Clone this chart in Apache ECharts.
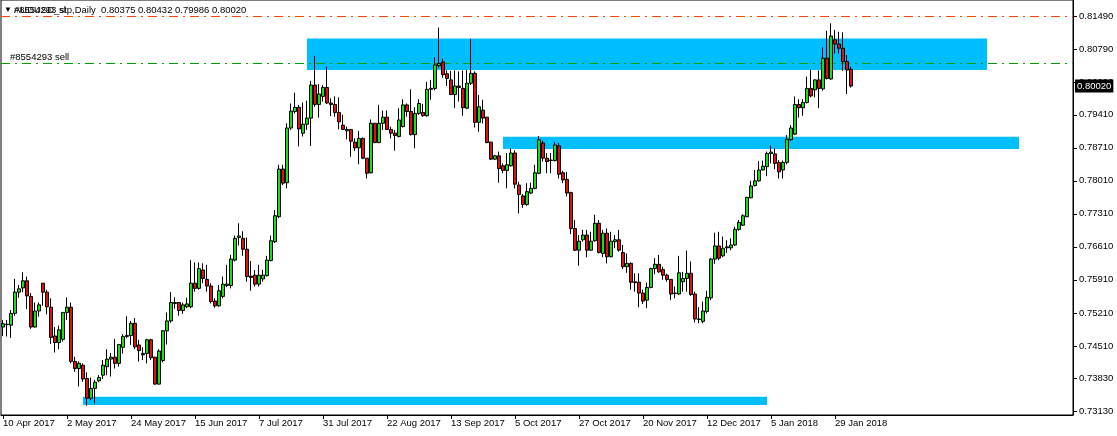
<!DOCTYPE html>
<html><head><meta charset="utf-8">
<script src="https://cdn.jsdelivr.net/npm/echarts@6/dist/echarts.min.js"></script>
<style>html,body{margin:0;padding:0;background:#fff}#c{width:1117px;height:436px}</style>
</head><body><div id="c"></div>
<script>
// ---- data (AUDUSD daily) ----
const symbolTitle = 'AUDUSD_stp,Daily';
const startDate = '2017-04-10';
const holidays = ['2017-12-25', '2018-01-01'];
const totalSlots = 268;
const labelEvery = 16;

const opens = [0.7491,0.7496,0.7495,0.7520,0.7565,0.7574,0.7589,0.7556,0.7491,0.7525,
0.7584,0.7565,0.7533,0.7472,0.7458,0.7465,0.7522,0.7533,0.7418,0.7403,
0.7410,0.7382,0.7340,0.7361,0.7377,0.7389,0.7407,0.7423,0.7427,0.7414,
0.7448,0.7471,0.7473,0.7499,0.7453,0.7435,0.7435,0.7464,0.7427,0.7370,
0.7420,0.7483,0.7504,0.7541,0.7543,0.7526,0.7534,0.7534,0.7584,0.7573,
0.7612,0.7592,0.7578,0.7546,0.7536,0.7556,0.7579,0.7579,0.7633,0.7681,
0.7679,0.7656,0.7599,0.7601,0.7582,0.7593,0.7600,0.7632,0.7672,0.7725,
0.7826,0.7797,0.7913,0.7948,0.7957,0.7902,0.7921,0.7934,0.8004,0.7963,
0.7980,0.7999,0.7966,0.7963,0.7946,0.7919,0.7907,0.7910,0.7883,0.7871,
0.7891,0.7849,0.7818,0.7923,0.7882,0.7923,0.7936,0.7910,0.7902,0.7895,
0.7916,0.7962,0.7948,0.7899,0.7944,0.7946,0.7939,0.7995,0.7997,0.8045,
0.8053,0.8028,0.8015,0.7984,0.8002,0.7997,0.7955,0.8008,0.8029,0.7925,
0.7951,0.7936,0.7883,0.7847,0.7854,0.7833,0.7823,0.7833,0.7860,0.7792,
0.7769,0.7751,0.7775,0.7785,0.7817,0.7881,0.7849,0.7845,0.7844,0.7875,
0.7818,0.7804,0.7776,0.7700,0.7654,0.7676,0.7686,0.7654,0.7674,0.7711,
0.7647,0.7690,0.7640,0.7672,0.7676,0.7649,0.7619,0.7626,0.7587,0.7586,
0.7563,0.7548,0.7575,0.7615,0.7624,0.7613,0.7601,0.7592,0.7562,0.7561,
0.7587,0.7594,0.7605,0.7561,0.7507,0.7503,0.7524,0.7553,0.7635,0.7663,
0.7642,0.7659,0.7659,0.7665,0.7698,0.7707,0.7725,0.7765,0.7791,0.7801,
0.7824,0.7831,0.7859,0.7858,0.7840,0.7824,0.7840,0.7888,0.7900,0.7963,
0.7956,0.7967,0.7997,0.7994,0.8015,0.7996,0.8061,0.8017,0.8100,0.8091,
0.8082,0.8054,0.80375];
const highs = [0.7506,0.7506,0.7527,0.7593,0.7580,0.7607,0.7598,0.7563,0.7543,0.7543,
0.7584,0.7570,0.7552,0.7491,0.7494,0.7522,0.7554,0.7543,0.7428,0.7418,
0.7414,0.7395,0.7384,0.7379,0.7389,0.7421,0.7444,0.7436,0.7466,0.7454,
0.7476,0.7514,0.7504,0.7510,0.7464,0.7448,0.7466,0.7466,0.7428,0.7444,
0.7485,0.7522,0.7565,0.7554,0.7543,0.7543,0.7553,0.7633,0.7628,0.7628,
0.7626,0.7623,0.7584,0.7552,0.7580,0.7598,0.7623,0.7644,0.7685,0.7711,
0.7694,0.7681,0.7631,0.7612,0.7623,0.7612,0.7642,0.7685,0.7739,0.7835,
0.7835,0.7923,0.7965,0.7988,0.7962,0.7967,0.7971,0.8013,0.8066,0.8006,
0.8004,0.8043,0.7976,0.7980,0.7978,0.7941,0.7916,0.7910,0.7891,0.7907,
0.7893,0.7849,0.7931,0.7923,0.7962,0.7950,0.7950,0.7916,0.7909,0.7955,
0.7974,0.7965,0.7995,0.7957,0.7974,0.7964,0.8011,0.8015,0.8063,0.8126,
0.8060,0.8035,0.8034,0.8035,0.8033,0.8035,0.8036,0.8102,0.8033,0.7983,
0.7973,0.7936,0.7884,0.7856,0.7863,0.7838,0.7860,0.7870,0.7866,0.7799,
0.7773,0.7796,0.7797,0.7835,0.7896,0.7886,0.7860,0.7860,0.7883,0.7881,
0.7822,0.7820,0.7778,0.7718,0.7686,0.7697,0.7697,0.7693,0.7729,0.7718,
0.7697,0.7700,0.7693,0.7686,0.7697,0.7665,0.7647,0.7628,0.7605,0.7605,
0.7570,0.7585,0.7617,0.7637,0.7644,0.7619,0.7604,0.7593,0.7577,0.7642,
0.7608,0.7653,0.7630,0.7566,0.7533,0.7545,0.7568,0.7637,0.7691,0.7693,
0.7683,0.7675,0.7679,0.7704,0.7718,0.7730,0.7767,0.7801,0.7824,0.7843,
0.7844,0.7863,0.7876,0.7870,0.7845,0.7844,0.7898,0.7919,0.7980,0.7974,
0.7974,0.8022,0.8037,0.8016,0.8035,0.8084,0.8119,0.8135,0.8121,0.8117,
0.8116,0.8068,0.80432];
const lows = [0.7472,0.7471,0.7468,0.7515,0.7553,0.7565,0.7529,0.7487,0.7490,0.7513,
0.7536,0.7518,0.7455,0.7437,0.7444,0.7460,0.7506,0.7414,0.7396,0.7365,
0.7375,0.7324,0.7336,0.7329,0.7374,0.7381,0.7389,0.7386,0.7403,0.7407,
0.7435,0.7467,0.7453,0.7444,0.7418,0.7421,0.7414,0.7421,0.7369,0.7369,
0.7416,0.7454,0.7500,0.7530,0.7515,0.7519,0.7531,0.7531,0.7566,0.7570,
0.7584,0.7566,0.7541,0.7532,0.7534,0.7552,0.7576,0.7573,0.7630,0.7664,
0.7642,0.7587,0.7568,0.7577,0.7577,0.7587,0.7598,0.7630,0.7669,0.7722,
0.7792,0.7785,0.7909,0.7944,0.7874,0.7895,0.7909,0.7875,0.7958,0.7935,
0.7969,0.7964,0.7938,0.7937,0.7910,0.7909,0.7889,0.7852,0.7864,0.7836,
0.7847,0.7806,0.7817,0.7881,0.7881,0.7909,0.7909,0.7891,0.7865,0.7893,
0.7914,0.7937,0.7897,0.7870,0.7941,0.7937,0.7937,0.7973,0.7993,0.8041,
0.8019,0.8002,0.7983,0.7955,0.7969,0.7939,0.7953,0.8004,0.7914,0.7905,
0.7923,0.7881,0.7845,0.7845,0.7797,0.7817,0.7785,0.7831,0.7785,0.7732,
0.7744,0.7748,0.7773,0.7783,0.7815,0.7842,0.7817,0.7817,0.7842,0.7806,
0.7796,0.7768,0.7688,0.7652,0.7621,0.7672,0.7639,0.7653,0.7672,0.7647,
0.7639,0.7626,0.7639,0.7658,0.7651,0.7614,0.7606,0.7570,0.7566,0.7533,
0.7540,0.7531,0.7573,0.7603,0.7606,0.7591,0.7587,0.7548,0.7552,0.7559,
0.7566,0.7566,0.7557,0.7501,0.7499,0.7499,0.7520,0.7548,0.7625,0.7633,
0.7639,0.7648,0.7654,0.7663,0.7695,0.7705,0.7724,0.7764,0.7789,0.7799,
0.7823,0.7811,0.7838,0.7826,0.7806,0.7806,0.7836,0.7886,0.7898,0.7935,
0.7939,0.7965,0.7978,0.7978,0.7955,0.7992,0.8016,0.8015,0.8071,0.8071,
0.8034,0.7985,0.79986];
const closes = [0.7498,0.7497,0.7520,0.7565,0.7572,0.7589,0.7557,0.7491,0.7525,0.7538,
0.7565,0.7534,0.7469,0.7458,0.7485,0.7522,0.7533,0.7418,0.7403,0.7414,
0.7381,0.7340,0.7361,0.7374,0.7384,0.7410,0.7423,0.7427,0.7414,0.7454,
0.7471,0.7473,0.7499,0.7449,0.7441,0.7432,0.7464,0.7426,0.7370,0.7440,
0.7483,0.7504,0.7543,0.7543,0.7526,0.7538,0.7540,0.7584,0.7573,0.7615,
0.7594,0.7578,0.7545,0.7536,0.7568,0.7582,0.7582,0.7635,0.7679,0.7684,
0.7656,0.7598,0.7596,0.7582,0.7601,0.7601,0.7633,0.7674,0.7727,0.7826,
0.7796,0.7913,0.7949,0.7957,0.7911,0.7921,0.7934,0.8004,0.7963,0.7985,
0.7999,0.7966,0.7963,0.7946,0.7926,0.7910,0.7910,0.7885,0.7871,0.7891,
0.7849,0.7817,0.7923,0.7882,0.7923,0.7936,0.7910,0.7902,0.7897,0.7930,
0.7962,0.7948,0.7899,0.7944,0.7965,0.7939,0.7995,0.7997,0.8047,0.8050,
0.8026,0.8018,0.7984,0.8002,0.7999,0.7956,0.8008,0.8029,0.7925,0.7958,
0.7934,0.7882,0.7847,0.7854,0.7827,0.7823,0.7835,0.7860,0.7794,0.7772,
0.7751,0.7778,0.7785,0.7818,0.7888,0.7849,0.7842,0.7844,0.7877,0.7815,
0.7803,0.7775,0.7700,0.7654,0.7673,0.7686,0.7654,0.7673,0.7711,0.7649,
0.7690,0.7640,0.7673,0.7676,0.7654,0.7619,0.7626,0.7586,0.7585,0.7563,
0.7546,0.7575,0.7615,0.7624,0.7608,0.7601,0.7592,0.7561,0.7563,0.7606,
0.7594,0.7605,0.7560,0.7508,0.7508,0.7525,0.7554,0.7635,0.7663,0.7637,
0.7658,0.7661,0.7665,0.7698,0.7713,0.7727,0.7766,0.7790,0.7801,0.7824,
0.7832,0.7859,0.7862,0.7838,0.7820,0.7840,0.7889,0.7913,0.7963,0.7956,
0.7967,0.7997,0.7981,0.8015,0.7997,0.8061,0.8018,0.8108,0.8091,0.8082,
0.8054,0.8036,0.80020];

const priceTicks = [0.7313,0.7383,0.7451,0.7521,0.7591,0.7661,0.7731,0.7801,0.7871,0.7941,0.8009,0.8079,0.8149];
const yMin = 0.73045, yMax = 0.81844;

// horizontal trade lines
const slLevel = 0.81504, slText = '#8554293 sl';
const sellLevel = 0.80508, sellText = '#8554293 sell';
const bidLevel = closes[closes.length - 1];

// zones: start bar, end bar, top price, bottom price
const zoneStart = [76, 125, 20];
const zoneEnd = [246, 254, 191];
const zoneTop = [0.81027, 0.78945, 0.73433];
const zoneBottom = [0.80359, 0.78684, 0.73257];

// ---- build categories (trading days) ----
const MON = ['Jan','Feb','Mar','Apr','May','Jun','Jul','Aug','Sep','Oct','Nov','Dec'];
const cats = [];
{
  let d = new Date(startDate + 'T00:00:00Z');
  while (cats.length < opens.length) {
    const wd = d.getUTCDay();
    const iso = d.toISOString().slice(0, 10);
    if (wd !== 0 && wd !== 6 && holidays.indexOf(iso) < 0) {
      cats.push(d.getUTCDate() + ' ' + MON[d.getUTCMonth()] + ' ' + d.getUTCFullYear());
    }
    d = new Date(d.getTime() + 86400000);
  }
  for (let i = cats.length; i < totalSlots; i++) cats.push('#' + i);
}
const candles = opens.map((o, i) => [o, closes[i], lows[i], highs[i]]);
const showIdx = (i) => i % labelEvery === 0 && i < opens.length;
const FONT = 'Liberation Sans';

const chart = echarts.init(document.getElementById('c'), null, {renderer: 'canvas'});
chart.setOption({
  animation: false,
  backgroundColor: '#ffffff',
  textStyle: {fontFamily: FONT},
  title: [
    {text: '▼', left: 4, top: 6, padding: 0, textStyle: {fontSize: 8, fontWeight: 'normal', color: '#000', fontFamily: FONT}},
    {text: symbolTitle + '  ' + [opens, highs, lows, closes].map(a => a[a.length - 1].toFixed(5)).join(' '),
     left: 14, top: 5, padding: 0, textStyle: {fontSize: 9.5, fontWeight: 'normal', color: '#000', fontFamily: FONT}}
  ],
  grid: {left: 1, right: 44, top: 0, bottom: 21, show: true, borderColor: '#000', borderWidth: 1, backgroundColor: '#fff'},
  xAxis: {
    type: 'category', data: cats, boundaryGap: true,
    axisLine: {show: true, lineStyle: {color: '#000', width: 1}},
    axisTick: {show: true, alignWithLabel: true, interval: (i) => showIdx(i), length: 4, lineStyle: {color: '#000'}},
    axisLabel: {interval: (i) => showIdx(i), align: 'left', margin: 3, fontSize: 9.5, color: '#000', fontFamily: FONT},
    splitLine: {show: false}
  },
  yAxis: {
    type: 'value', position: 'right', min: yMin, max: yMax, scale: true,
    axisLine: {show: true, lineStyle: {color: '#000', width: 1}},
    axisTick: {show: true, length: 4, customValues: priceTicks, lineStyle: {color: '#000'}},
    axisLabel: {customValues: priceTicks, formatter: (v) => v.toFixed(5), margin: 6, fontSize: 9.5, color: '#000', fontFamily: FONT},
    splitLine: {show: false}
  },
  series: [
    {
      type: 'line', data: [], z: 1, silent: true,
      markArea: {
        silent: true,
        itemStyle: {color: '#00bfff', opacity: 1},
        data: zoneStart.map((s, k) => [{xAxis: s, yAxis: zoneTop[k]}, {xAxis: zoneEnd[k], yAxis: zoneBottom[k]}])
      },
      markLine: {
        silent: true, symbol: 'none', animation: false, precision: 5,
        data: [
          {yAxis: slLevel, lineStyle: {color: '#ff4500', type: [9, 5, 2, 5], width: 1},
           label: {show: true, formatter: slText, position: 'insideStartTop', distance: [13, 1], color: '#000', fontSize: 9.5, fontFamily: FONT}},
          {yAxis: sellLevel, lineStyle: {color: '#00a000', type: [9, 5, 2, 5], width: 1},
           label: {show: true, formatter: sellText, position: 'insideStartTop', distance: [9, 1], color: '#000', fontSize: 9.5, fontFamily: FONT}}
        ]
      }
    },
    {
      type: 'candlestick', data: candles, z: 5, barWidth: 3,
      itemStyle: {color: '#18e018', color0: '#dd1111', borderColor: '#000', borderColor0: '#000', borderWidth: 1}
    },
    {
      type: 'line', data: [], z: 10, silent: true,
      markLine: {
        silent: true, symbol: 'none', animation: false, precision: 5,
        data: [{yAxis: bidLevel, lineStyle: {color: 'rgba(0,0,0,0)', width: 0},
          label: {show: true, position: 'end', distance: 2, formatter: bidLevel.toFixed(5), color: '#fff',
                  backgroundColor: '#000', padding: [2, 2, 1, 2], fontSize: 9.5, fontFamily: FONT}}]
      }
    }
  ]
});
</script>
</body></html>
